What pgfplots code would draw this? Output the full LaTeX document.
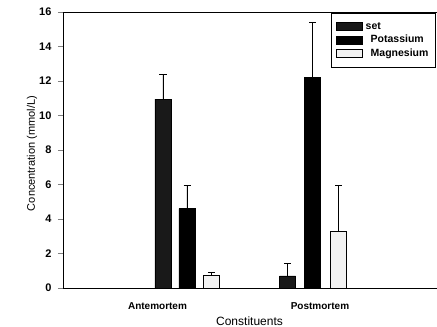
\documentclass[border=0pt]{standalone}
\usepackage{pgfplots}
\pgfplotsset{compat=1.18}
\usepackage{fontspec}
\setmainfont{Liberation Sans}
\begin{document}
\begin{tikzpicture}
\begin{axis}[
  scale only axis, width=374pt, height=276pt,
  xmin=63, xmax=437, ymin=0, ymax=16,
  axis x line*=box, axis y line*=left,
  axis line style={line width=0.8pt},
  ytick={0,2,...,16},
  tick align=outside, major tick length=5pt,
  y tick style={line width=0.8pt},
  xtick={157.5,320}, xticklabels={Antemortem,Postmortem},
  x tick style={draw=none},
  tick label style={font=\fontsize{10}{12}\selectfont\bfseries},
  yticklabel style={font=\fontsize{11}{13}\selectfont\bfseries, xshift=-3pt},
  /pgf/number format/assume math mode=true,
  xticklabel style={yshift=-6pt},
  xlabel={Constituents},
  xlabel style={font=\fontsize{12}{14}\selectfont, at={(axis description cs:0.4987,-0.12)}, anchor=center},
  ylabel={Concentration (mmol/L)},
  ylabel style={font=\fontsize{11}{13}\selectfont, at={(axis description cs:-0.083,0.487)}, anchor=center},
  legend style={at={(rel axis cs:0.997,0.996)}, anchor=north east, draw=black, line width=0.8pt,
    font=\fontsize{10.5}{12}\selectfont\bfseries, row sep=0.5pt, inner xsep=5pt, inner ysep=7pt},
  legend cell align=left,
  error bars/error bar style={line width=0.8pt, black},
  error bars/error mark options={rotate=90, line width=0.8pt, black, mark size=3.5pt},
]
\coordinate (O) at (rel axis cs:0,0);
\addplot[ybar, bar width=16, fill=black!90, draw=black, line width=0.6pt,
  legend image code/.code={\draw[fill=black!90,draw=black] (0pt,-4pt) rectangle (26pt,4pt);},
  error bars/.cd, y dir=plus, y explicit]
  coordinates {(163,10.95) +- (0,1.45) (287.5,0.7) +- (0,0.7)};
\addlegendentry{\hspace{1pt}set}
\addplot[ybar, bar width=16, fill=black, draw=black, line width=0.6pt,
  legend image code/.code={\draw[fill=black,draw=black] (0pt,-4pt) rectangle (26pt,4pt);},
  error bars/.cd, y dir=plus, y explicit]
  coordinates {(187,4.6) +- (0,1.35) (312.5,12.2) +- (0,3.2)};
\addlegendentry{\hspace{6pt}Potassium}
\addplot[ybar, bar width=16, fill=gray!10, draw=black, line width=0.6pt,
  legend image code/.code={\draw[fill=gray!10,draw=black] (0pt,-4pt) rectangle (26pt,4pt);},
  error bars/.cd, y dir=plus, y explicit]
  coordinates {(211.5,0.75) +- (0,0.15) (338.5,3.3) +- (0,2.65)};
\addlegendentry{\hspace{6pt}Magnesium}
\end{axis}
\pgfresetboundingbox
\path (O) ++(-63pt,-39pt) rectangle ++(437pt,327pt);
\end{tikzpicture}
\end{document}
